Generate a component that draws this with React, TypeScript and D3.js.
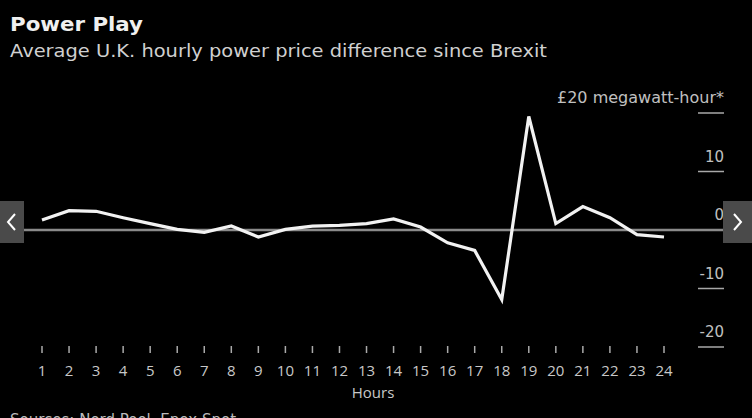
import React from "react";
import * as d3 from "d3";

const hours = d3.range(1, 25);
const priceDiff = [1.7, 3.3, 3.2, 2.1, 1.1, 0.1, -0.4, 0.7, -1.2, 0.1, 0.65, 0.8, 1.1, 1.9, 0.5, -2.2, -3.5, -11.9, 19.4, 1.1, 4.0, 2.1, -0.8, -1.2];
const yTicks = [20, 10, 0, -10, -20];
const yTickLabels = ["£20 megawatt-hour*", "10", "0", "-10", "-20"];
const title = "Power Play";
const subtitle = "Average U.K. hourly power price difference since Brexit";
const xTitle = "Hours";
const source = "Sources: Nord Pool, Epex Spot";

const W = 752;
const H = 418;
const FONT = "'DejaVu Sans', 'Open Sans', sans-serif";
const FONT_NARROW = "'Open Sans', 'DejaVu Sans', sans-serif";

export default function App() {
  const x = d3.scaleLinear().domain([1, 24]).range([42, 664]);
  const y = d3.scaleLinear().domain([-20, 20]).range([347, 113]);
  const line = d3
    .line<number>()
    .x((_, i) => x(hours[i]))
    .y((d) => y(d))
    .curve(d3.curveLinear);

  return (
    <svg
      width={W}
      height={H}
      style={{ position: "absolute", left: 0, top: 0, background: "#000" }}
      fontFamily={FONT}
    >
      <rect width={W} height={H} fill="#000" />
      <text x={10} y={31} fill="#f0f0f0" fontSize={20} fontWeight="bold" textLength={133} lengthAdjust="spacingAndGlyphs">
        {title}
      </text>
      <text x={10} y={57} fill="#d0d0d0" fontSize={18} textLength={537} lengthAdjust="spacingAndGlyphs">
        {subtitle}
      </text>

      <line x1={0} x2={724} y1={y(0)} y2={y(0)} stroke="#8a8a8a" strokeWidth={2.5} />
      {yTicks.map((t, i) => (
        <g key={t}>
          {t !== 0 && (
            <line x1={698} x2={724} y1={y(t)} y2={y(t)} stroke="#a8a8a8" strokeWidth={1.5} />
          )}
          <text
            x={724}
            y={y(t) - 10}
            textAnchor="end"
            fill="#c0c0c0"
            fontSize={15}
            {...(i === 0 ? { textLength: 167, lengthAdjust: "spacingAndGlyphs" } : {})}
          >
            {yTickLabels[i]}
          </text>
        </g>
      ))}

      <path d={line(priceDiff) || ""} fill="none" stroke="#f2f2f2" strokeWidth={3.2} strokeLinejoin="miter" />

      {hours.map((h) => (
        <g key={h}>
          <line x1={x(h)} x2={x(h)} y1={346} y2={353} stroke="#aaa" strokeWidth={1.5} />
          <text x={x(h)} y={376} textAnchor="middle" fill="#c8c8c8" fontSize={15} fontFamily={FONT_NARROW}>
            {h}
          </text>
        </g>
      ))}
      <text x={373} y={398} textAnchor="middle" fill="#c8c8c8" fontSize={15} fontFamily={FONT_NARROW}>
        {xTitle}
      </text>
      <text x={10} y={425} fill="#bbb" fontSize={15}>
        {source}
      </text>

      <rect x={0} y={201} width={24} height={42} fill="#4a4a4a" />
      <path d="M15,214 L8,222 L15,230" fill="none" stroke="#fff" strokeWidth={2} />
      <rect x={723} y={201} width={29} height={42} fill="#4a4a4a" />
      <path d="M734,214 L741,222 L734,230" fill="none" stroke="#fff" strokeWidth={2} />
    </svg>
  );
}
